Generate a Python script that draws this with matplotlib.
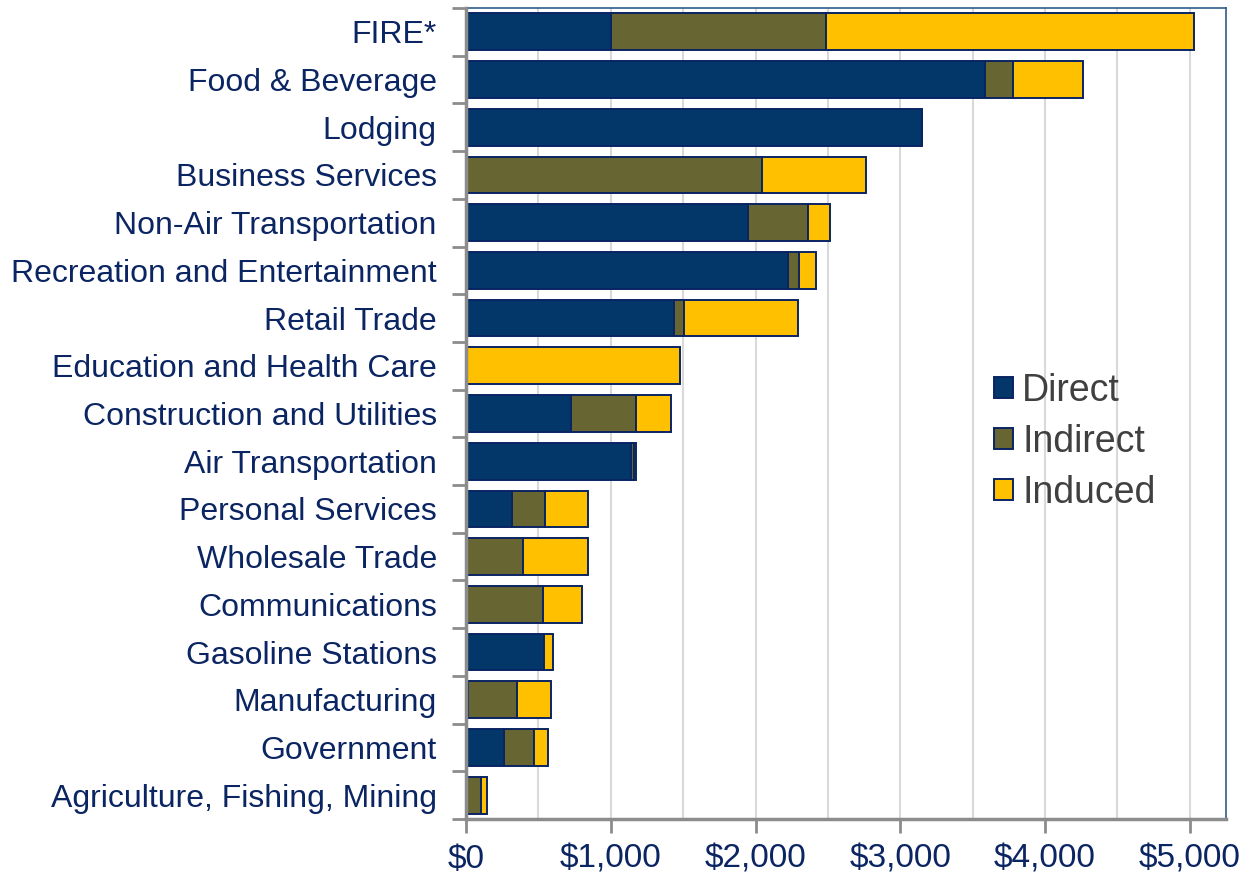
import numpy as np
import matplotlib
matplotlib.use('Agg')
from matplotlib import pyplot as plt
from matplotlib.ticker import FixedLocator, FuncFormatter

plt.rcParams['font.family'] = ['Liberation Sans', 'DejaVu Sans']

# data (top to bottom, as in the chart)
industries = ['FIRE*', 'Food & Beverage', 'Lodging', 'Business Services',
              'Non-Air Transportation', 'Recreation and Entertainment',
              'Retail Trade', 'Education and Health Care',
              'Construction and Utilities', 'Air Transportation',
              'Personal Services', 'Wholesale Trade', 'Communications',
              'Gasoline Stations', 'Manufacturing', 'Government',
              'Agriculture, Fishing, Mining']
direct = [1000, 3585, 3150, 0, 1946, 2222, 1438, 0, 726, 1141,
          316, 0, 0, 537, 14, 263, 0]
indirect = [1485, 192, 0, 2047, 419, 76, 65, 0, 447, 20,
            228, 394, 535, 5, 336, 205, 101]
induced = [2545, 483, 0, 716, 148, 122, 788, 1475, 242, 10,
           300, 450, 269, 58, 236, 97, 43]
series_names = ['Direct', 'Indirect', 'Induced']
colors = ['#033669', '#676633', '#FFC000']

navy = '#0B2562'
edge = '#0A2463'

fig = plt.figure(figsize=(12.53, 8.75), dpi=100)
ax = fig.add_axes([466/1253, 1-819/875, (1226-466)/1253, (819-8)/875])

y = np.arange(len(industries))
left = np.zeros(len(industries))
for vals, name, c in zip([direct, indirect, induced], series_names, colors):
    v = np.array(vals, dtype=float)
    ax.barh(y, v, left=left, height=0.77, color=c, edgecolor=edge,
            linewidth=1.4, label=name, zorder=3)
    left = left + v

ax.set_ylim(len(industries)-0.5, -0.5)
ax.set_xlim(0, 5250)

# labels at category centres, tick marks at boundaries
ax.set_yticks(y)
ax.set_yticklabels(industries, fontsize=23, color=navy)
ax.yaxis.set_minor_locator(FixedLocator(np.arange(-0.5, len(industries), 1)))
ax.tick_params(axis='y', which='major', length=0, pad=21)
ax.tick_params(axis='y', which='minor', length=10, width=2, color='#8C8C8C')

ax.set_xticks(np.arange(0, 5001, 1000))
ax.xaxis.set_major_formatter(FuncFormatter(lambda v, p: '${:,.0f}'.format(v)))
ax.tick_params(axis='x', which='major', length=10, width=2, color='#8C8C8C',
               labelsize=24, labelcolor=navy, pad=8)
ax.xaxis.set_minor_locator(FixedLocator(np.arange(500, 5001, 1000)))
ax.tick_params(axis='x', which='minor', length=0)

ax.grid(axis='x', which='both', color='#D9D9D9', linewidth=1.5, zorder=0)
ax.set_axisbelow(True)

for s in ['left', 'bottom']:
    ax.spines[s].set_color('#8C8C8C')
    ax.spines[s].set_linewidth(2.5)
    ax.spines[s].set_zorder(4)
for s in ['top', 'right']:
    ax.spines[s].set_color('#2E5C8A')
    ax.spines[s].set_linewidth(1.2)

leg = ax.legend(loc='center left', bbox_to_anchor=(979/1253, 1-442/875),
                bbox_transform=fig.transFigure, frameon=False, fontsize=27,
                handlelength=0.5, handleheight=0.5, handletextpad=0.25,
                labelspacing=0.4, borderaxespad=0)
for t in leg.get_texts():
    t.set_color('#404040')

fig.savefig('out.png', dpi=100)
